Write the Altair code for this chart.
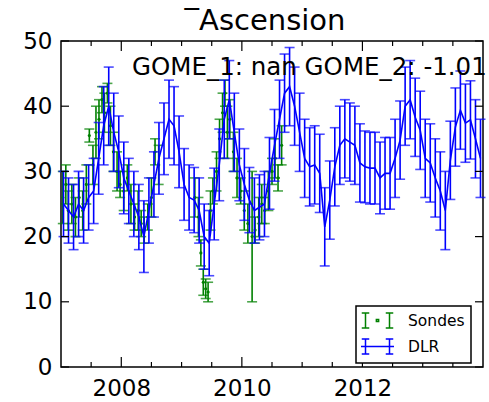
import altair as alt
import pandas as pd

# ---------------- data ----------------
dlr_years = list(range(2007, 2014))
dlr_values = [
    25, 24, 23, 25, 24, 26, 27, 32, 37, 40, 36, 33,          # 2007
    29, 27, 25, 23, 20, 24, 28, 32, 35, 38, 37, 33,          # 2008
    28, 26, 25.6, 24, 20, 19, 25, 31, 38, 41, 36, 31,        # 2009
    28, 25.6, 24, 24.5, 25, 29.7, 34, 38, 42, 43, 40, 36,    # 2010
    32, 30.7, 31, 29.7, 21.5, 25.6, 30.7, 34, 35, 34.5, 34, 31.3,  # 2011
    30.7, 30.5, 30.5, 29, 29.7, 29.7, 32, 34.8, 40, 41, 38.3, 36.3,  # 2012
    32, 31.3, 29, 27, 24, 31.7, 36.8, 39.4, 37.4, 37.9, 35, 32,      # 2013
]
dlr_errors = [
    5, 5, 5, 5, 5, 5, 5, 5.5, 6, 6, 6, 5.5,
    5.5, 5, 5, 5, 5.5, 5, 5, 5.5, 5.5, 6, 6, 5.5,
    5.5, 5, 5, 5, 5, 5, 5.5, 5.5, 6, 6, 6, 5.5,
    5.5, 5, 5, 5, 5, 5.5, 5.5, 6, 6, 6, 6, 6,
    6, 6, 6, 6, 6, 6, 6, 6, 6, 6, 6, 6,
    5.5, 5.5, 5.5, 5.5, 5.5, 5.5, 6, 6, 6, 6, 6, 6,
    6, 6, 6, 6, 6, 6, 6, 6, 6, 6, 6, 6,
]

sonde_times = [
    2007.03, 2007.08, 2007.12, 2007.18, 2007.24, 2007.30, 2007.36, 2007.42, 2007.47, 2007.53,
    2007.58, 2007.63, 2007.68, 2007.72, 2007.77, 2007.82, 2007.87, 2007.93, 2007.98, 2008.04,
    2008.10, 2008.16, 2008.22, 2008.28, 2008.33, 2008.38, 2008.44, 2008.50, 2008.56, 2008.62,
    2009.22, 2009.28, 2009.32, 2009.36, 2009.40, 2009.44, 2009.48, 2009.52, 2009.58, 2009.63,
    2009.68, 2009.72, 2009.76, 2009.80, 2009.86, 2009.92, 2009.98, 2010.04, 2010.10, 2010.17,
    2010.22, 2010.28, 2010.33, 2010.38, 2010.44, 2010.50, 2010.55, 2010.60, 2010.66,
]
sonde_values = [
    26, 28, 24, 25, 23, 26, 24, 28, 35.5, 31,
    36, 38, 41, 39, 42, 37, 33, 30, 28, 27,
    29, 25, 23, 24, 22, 21, 23, 26, 33, 31,
    26, 23, 17.5, 13, 12, 11.5, 24, 27, 30, 35,
    39, 42, 36, 38, 33, 29, 27, 24, 22, 20,
    21, 23, 25, 24, 27, 30, 32, 29, 34,
]
sonde_errors = [
    4, 3, 3, 3, 3, 3, 3, 3, 1, 3,
    4, 3, 2, 3, 1.5, 3, 3, 3, 2, 3,
    2, 3, 2, 3, 2, 2, 2, 3, 2, 3,
    3, 3, 2, 2, 1.5, 1.5, 3, 2, 3, 3,
    3, 2, 4, 3, 3, 3, 2, 3, 3, 10,
    2, 3, 3, 2, 3, 2, 3, 2, 3,
]

series_names = ["Sondes", "DLR"]
series_colors = ["#008000", "#0000ff"]

x_label_ticks = [2008, 2010, 2012]
x_minor_ticks = [2007.5, 2008.5, 2009, 2009.5, 2010.5, 2011, 2011.5, 2012.5, 2013, 2013.5]
y_ticks = [0, 10, 20, 30, 40, 50]

title_text = "‾Ascension"
note_text = "GOME_1: nan GOME_2: -1.01"

# ---------------- tables ----------------
dlr_t = [y + (m + 0.5) / 12 for y in dlr_years for m in range(12)]
dlr = pd.DataFrame({"t": dlr_t, "v": dlr_values, "e": dlr_errors})
dlr["lo"] = dlr["v"] - dlr["e"]
dlr["hi"] = dlr["v"] + dlr["e"]

son = pd.DataFrame({"t": sonde_times, "v": sonde_values, "e": sonde_errors})
son["lo"] = son["v"] - son["e"]
son["hi"] = son["v"] + son["e"]

W, H = 422, 326
FONT = "DejaVu Sans"
GREEN, BLUE = series_colors

xs = alt.Scale(domain=[2007, 2014], nice=False, zero=False)
ys = alt.Scale(domain=[0, 50], nice=False, zero=False)

xa = alt.Axis(values=x_label_ticks, format="d", ticks=False, domain=False, grid=False,
              labelFont=FONT, labelFontSize=23, labelColor="black", labelPadding=10,
              labelBaseline="top", labelFlush=False, title=None)
ya = alt.Axis(values=y_ticks, format="d", ticks=False, domain=False, grid=False,
              labelFont=FONT, labelFontSize=23, labelColor="black", labelPadding=9,
              labelFlush=False, title=None)

X = lambda f: alt.X(f, type="quantitative", scale=xs, axis=xa, title=None)
Y = lambda f: alt.Y(f, type="quantitative", scale=ys, axis=ya, title=None)


def errbars(df, color):
    base = alt.Chart(df)
    bars = base.mark_rule(color=color, strokeWidth=1.6).encode(x=X("t"), y=Y("lo"), y2="hi")
    cap_lo = base.mark_tick(color=color, orient="horizontal", size=10, thickness=1.6).encode(x=X("t"), y=Y("lo"))
    cap_hi = base.mark_tick(color=color, orient="horizontal", size=10, thickness=1.6).encode(x=X("t"), y=Y("hi"))
    return bars + cap_lo + cap_hi


son_dots = alt.Chart(son).mark_circle(color=GREEN, size=10, opacity=1).encode(x=X("t"), y=Y("v"))
dlr_line = alt.Chart(dlr).mark_line(color=BLUE, strokeWidth=1.6).encode(x=X("t"), y=Y("v"))

# inward ticks
tick_major_x = pd.DataFrame({"t": x_label_ticks})
tick_minor_x = pd.DataFrame({"t": x_minor_ticks})
tick_y = pd.DataFrame({"v": y_ticks})
tk = dict(color="black", strokeWidth=1.2)
ticks = (
    alt.Chart(tick_major_x).mark_rule(**tk).encode(x=X("t"), y=alt.value(H), y2=alt.value(H - 10))
    + alt.Chart(tick_major_x).mark_rule(**tk).encode(x=X("t"), y=alt.value(0), y2=alt.value(10))
    + alt.Chart(tick_minor_x).mark_rule(**tk).encode(x=X("t"), y=alt.value(H), y2=alt.value(H - 5))
    + alt.Chart(tick_minor_x).mark_rule(**tk).encode(x=X("t"), y=alt.value(0), y2=alt.value(5))
    + alt.Chart(tick_y).mark_rule(**tk).encode(y=Y("v"), x=alt.value(0), x2=alt.value(8))
    + alt.Chart(tick_y).mark_rule(**tk).encode(y=Y("v"), x=alt.value(W), x2=alt.value(W - 8))
)

# legend with custom error-bar glyphs
glyphs = "M-2.1,-1H-1.1M-1.6,-1V1M-2.1,1H-1.1M1.1,-1H2.1M1.6,-1V1M1.1,1H2.1"
sym_sondes = glyphs + "M-0.15,-0.12H0.15V0.12H-0.15Z"
sym_dlr = glyphs + "M-2.2,0H2.2"
leg = alt.Legend(title=None, orient="none", legendX=295, legendY=265, padding=6,
                 strokeColor="black", fillColor="white", cornerRadius=0,
                 labelFont=FONT, labelFontSize=15.5, labelColor="black",
                 symbolSize=225, symbolOffset=7, labelOffset=22, rowPadding=5,
                 symbolStrokeWidth=1.5)
legend_layer = alt.Chart(pd.DataFrame({"s": series_names})).transform_filter("false").mark_point(
    filled=False, size=225, strokeWidth=1.5, opacity=1
).encode(
    color=alt.Color("s:N", scale=alt.Scale(domain=series_names, range=series_colors), legend=leg),
    shape=alt.Shape("s:N", scale=alt.Scale(domain=series_names, range=[sym_sondes, sym_dlr]), legend=leg),
)

note = alt.Chart(pd.DataFrame({"txt": [note_text]})).mark_text(
    font=FONT, fontSize=24.5, color="black", align="left", baseline="alphabetic"
).encode(text="txt:N", x=alt.value(71), y=alt.value(34))

chart = alt.layer(
    errbars(son, GREEN), son_dots,
    errbars(dlr, BLUE), dlr_line,
    ticks, note, legend_layer,
).properties(
    width=W, height=H,
    title=alt.TitleParams(title_text, font=FONT, fontSize=29, fontWeight="normal", color="black",
                          anchor="middle", offset=6, dy=12, dx=-7),
    autosize=alt.AutoSizeParams(type="none"),
    padding={"left": 61, "top": 41, "right": 6, "bottom": 35},
).configure_view(stroke="black", strokeWidth=1.5).configure_legend(strokeWidth=1.5)

chart.save("out.html", embed_options={"renderer": "svg", "actions": False})
